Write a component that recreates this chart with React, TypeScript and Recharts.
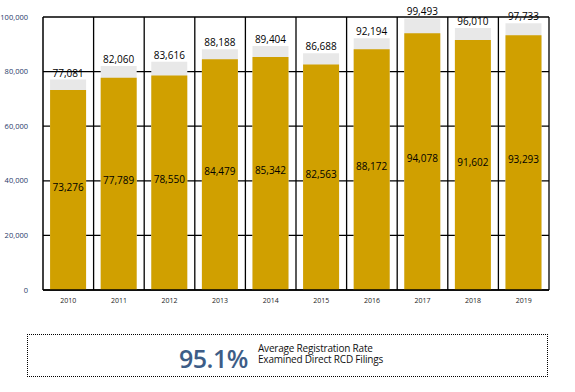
import {
  BarChart,
  Bar,
  XAxis,
  YAxis,
  CartesianGrid,
  LabelList,
} from "recharts";

const years = ["2010", "2011", "2012", "2013", "2014", "2015", "2016", "2017", "2018", "2019"];
const examined = [77081, 82060, 83616, 88188, 89404, 86688, 92194, 99493, 96010, 97733];
const registered = [73276, 77789, 78550, 84479, 85342, 82563, 88172, 94078, 91602, 93293];
const yTicks = [0, 20000, 40000, 60000, 80000, 100000];

const data = years.map((year, i) => ({
  year,
  examined: examined[i],
  registered: registered[i],
}));

const fmt = (v: number) => v.toLocaleString("en-US");
const font = "'Open Sans', 'Noto Sans', sans-serif";

export default function App() {
  return (
    <div
      style={{
        position: "absolute",
        left: 0,
        top: 0,
        width: 575,
        height: 392,
        background: "#fff",
        fontFamily: font,
      }}
    >
      <BarChart
        width={575}
        height={310}
        data={data}
        margin={{ top: 17, right: 26, bottom: 0, left: 0 }}
        barCategoryGap="14%"
      >
        <CartesianGrid
          stroke="#000"
          strokeWidth={1.3}
          verticalCoordinatesGenerator={({ offset }: any) =>
            years.map((_, i) => offset.left + ((i + 1) * offset.width) / years.length)
          }
        />
        <XAxis xAxisId="reg" dataKey="year" hide height={0} />
        <XAxis
          xAxisId="total"
          dataKey="year"
          axisLine={{ stroke: "#000", strokeWidth: 1.5 }}
          tickLine={false}
          tick={{ fontSize: 7, fill: "#222", fontFamily: font }}
          height={20}
          tickMargin={2}
        />
        <YAxis
          domain={[0, 100000]}
          ticks={yTicks}
          width={43}
          axisLine={{ stroke: "#000", strokeWidth: 1.5 }}
          tickLine={false}
          tickFormatter={fmt}
          tick={{ fontSize: 7.5, fill: "#1f3868", fontFamily: font }}
          tickMargin={9}
        />
        <Bar xAxisId="total" dataKey="examined" fill="#e8e8e8" isAnimationActive={false}>
          <LabelList
            dataKey="examined"
            position="top"
            offset={3}
            formatter={(v: any) => fmt(Number(v))}
            style={{ fontSize: 10, fill: "#000", fontFamily: font }}
          />
        </Bar>
        <Bar xAxisId="reg" dataKey="registered" fill="#d0a000" isAnimationActive={false}>
          <LabelList
            dataKey="registered"
            position="center"
            dy={-3}
            formatter={(v: any) => fmt(Number(v))}
            style={{ fontSize: 10, fill: "#000", fontFamily: font }}
          />
        </Bar>
      </BarChart>
      <div
        style={{
          position: "absolute",
          left: 27,
          top: 334,
          width: 521,
          height: 43,
          boxSizing: "border-box",
          border: "1.5px dotted #000",
        }}
      >
        <span
          style={{
            position: "absolute",
            left: 151,
            top: 6,
            fontSize: 25,
            fontWeight: 600,
            color: "#3d5d87",
            letterSpacing: -0.5,
          }}
        >
          95.1%
        </span>
        <span
          style={{
            position: "absolute",
            left: 230,
            top: 8,
            fontSize: 10,
            lineHeight: "11px",
            color: "#111",
            letterSpacing: -0.2,
            whiteSpace: "nowrap",
          }}
        >
          Average Registration Rate
          <br />
          Examined Direct RCD Filings
        </span>
      </div>
    </div>
  );
}
